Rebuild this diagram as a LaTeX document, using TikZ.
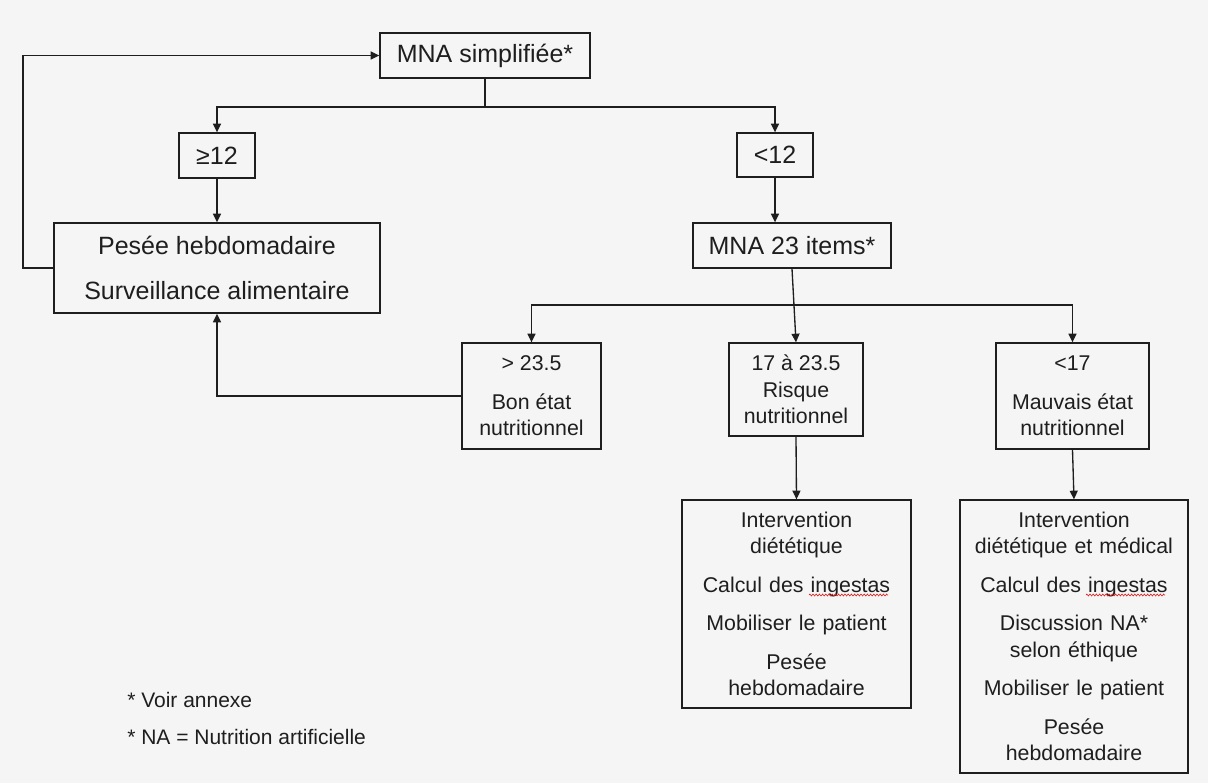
\documentclass[tikz,border=0pt]{standalone}
\usepackage{fontspec}
\setmainfont{Liberation Sans}
\usetikzlibrary{arrows.meta,decorations.pathmorphing}
\definecolor{bgc}{RGB}{245,245,245}
\definecolor{ink}{RGB}{30,30,30}
\definecolor{spell}{RGB}{220,40,40}
\begin{document}
\begin{tikzpicture}[x=0.75pt,y=-0.75pt,
  box/.style={draw=ink, line width=1pt, inner sep=0pt, text=ink, align=center},
  big/.style={font=\fontsize{18.75}{33.75}\selectfont},
  small/.style={font=\fontsize{16}{19.9}\selectfont},
  mw/.style={minimum width=#1*0.75pt},
  mh/.style={minimum height=#1*0.75pt},
  arr/.style={draw=ink, line width=1pt, -{Triangle[length=6.5pt,width=6pt]}},
  ln/.style={draw=ink, line width=1pt},
  wave/.style={draw=spell, line width=0.5pt, decorate, decoration={zigzag, segment length=2.4pt, amplitude=0.7pt}},
  note/.style={anchor=west, text=ink, inner sep=0pt, font=\fontsize{15.75}{18}\selectfont}]
\fill[bgc] (0,0) rectangle (1208,783);
\useasboundingbox (0,0) rectangle (1208,783);

\node[box,big,mw=210,mh=45] (simpl) at (485,55.5) {MNA simplifiée*};
\node[box,big,mw=76,mh=45] (ge12) at (217,155.5) {≥12};
\node[box,big,mw=76,mh=44] (lt12) at (775,155) {<12};
\node[box,big,mw=326,mh=90] (pesee) at (217,268) {Pesée hebdomadaire\\Surveillance alimentaire};
\node[box,big,mw=198,mh=45] (m23) at (792,245.5) {MNA 23 items*};
\node[box,small,mw=139,mh=106] (bon) at (531.5,396) {> 23.5\\[9pt]Bon état\\nutritionnel};
\node[box,small,mw=134,mh=93] (risk) at (796,389.5) {17 à 23.5\\Risque\\nutritionnel};
\node[box,small,mw=153,mh=106] (mauv) at (1072.5,396) {<17\\[9pt]Mauvais état\\nutritionnel};
\node[box,small,mw=229,mh=208,text width=161pt] (act1) at (796.5,604) {Intervention\\diététique\\[9pt]Calcul des ingestas\\[9pt]Mobiliser le patient\\[9pt]Pesée\\hebdomadaire};
\node[box,small,mw=228,mh=273,text width=161pt] (act2) at (1074,636.5) {Intervention\\diététique et médical\\[9pt]Calcul des ingestas\\[9pt]Discussion NA*\\selon éthique\\[9pt]Mobiliser le patient\\[9pt]Pesée\\hebdomadaire};

\draw[wave] (809,595) -- (888,595);
\draw[wave] (1086,595) -- (1165,595);

\node[note] (fn1) at (127,700) {* Voir annexe};
\node[note] (fn2) at (127,737) {* NA = Nutrition artificielle};

\coordinate (br1) at (485,107);
\draw[ln] (simpl.south) -- (br1);
\draw[arr] (br1) -| (ge12.north);
\draw[arr] (br1) -| (lt12.north);
\coordinate (loopx) at (23,0);
\draw[arr] (pesee.west) -- (pesee.west -| loopx) |- (simpl.west);
\draw[arr] (ge12.south) -- (pesee.north);
\draw[arr] (lt12.south) -- (lt12.south |- m23.north);
\coordinate (br2) at (792,305);
\draw[arr] (m23.south) -- (risk.north);
\draw[arr] (br2) -| (bon.north);
\draw[arr] (br2) -| (mauv.north);
\draw[arr] (bon.west) -| (pesee.south);
\draw[arr] (risk.south) -- (act1.north);
\draw[arr] (mauv.south) -- (act2.north);
\end{tikzpicture}
\end{document}
